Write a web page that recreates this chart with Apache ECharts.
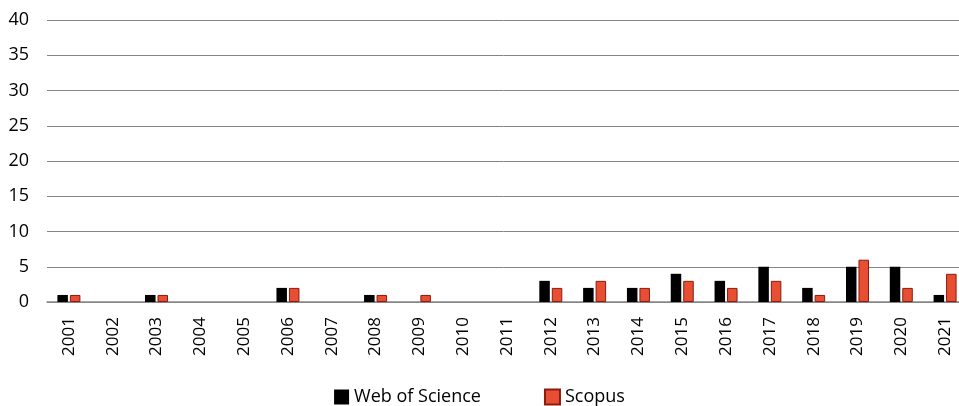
<!DOCTYPE html>
<html>
<head>
<meta charset="utf-8">
<script src="https://cdn.jsdelivr.net/npm/echarts@6/dist/echarts.min.js"></script>
<style>
  html, body { margin: 0; padding: 0; background: #fff; }
  #main { width: 959px; height: 406px; }
</style>
</head>
<body>
<div id="main"></div>
<script>
var years = ['2001','2002','2003','2004','2005','2006','2007','2008','2009','2010','2011',
             '2012','2013','2014','2015','2016','2017','2018','2019','2020','2021'];
var wos    = [1,0,1,0,0,2,0,1,0,0,0,3,2,2,4,3,5,2,5,5,1];
var scopus = [1,0,1,0,0,2,0,1,1,0,0,2,3,2,3,2,3,1,6,2,4];
var yTicks = [0, 40, 5];

// empty years draw no bar at all
function noZero(arr) {
    return arr.map(function (v) { return v === 0 ? null : v; });
}

var chart = echarts.init(document.getElementById('main'));
var font = '"Open Sans", "Noto Sans", sans-serif';

var option = {
    animation: false,
    textStyle: { fontFamily: font },
    grid: { left: 47, top: 20, width: 920, height: 282, containLabel: false, outerBoundsMode: 'none' },
    legend: {
        top: 383,
        left: 'center',
        itemWidth: 15,
        itemHeight: 15,
        itemGap: 63,
        icon: 'rect',
        textStyle: { fontSize: 18, color: '#000', fontFamily: font },
        data: ['Web of Science', 'Scopus']
    },
    xAxis: {
        type: 'category',
        data: years,
        axisLine: { lineStyle: { color: '#868686', width: 1.5 } },
        axisTick: { show: false },
        axisLabel: { rotate: 90, fontSize: 17, color: '#000', margin: 15, fontFamily: font }
    },
    yAxis: {
        type: 'value',
        min: yTicks[0],
        max: yTicks[1],
        interval: yTicks[2],
        axisLine: { show: false },
        axisTick: { show: false },
        axisLabel: { fontSize: 18, color: '#000', margin: 18, fontFamily: font },
        splitLine: { lineStyle: { color: '#868686', width: 1 } }
    },
    series: [{
        name: 'Web of Science',
        type: 'bar',
        data: noZero(wos),
        barWidth: 10.5,
        barGap: '19%',
        itemStyle: { color: '#000000' }
    }, {
        name: 'Scopus',
        type: 'bar',
        data: noZero(scopus),
        barWidth: 10.5,
        itemStyle: { color: '#e84e32', borderColor: '#8b1a10', borderWidth: 1 }
    }]
};
chart.setOption(option);
</script>
</body>
</html>
